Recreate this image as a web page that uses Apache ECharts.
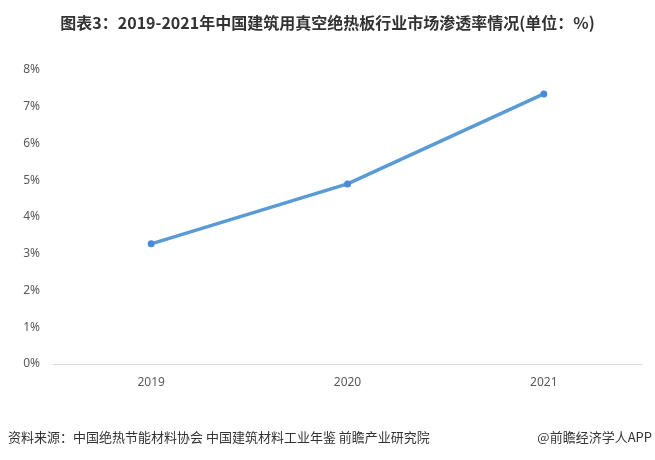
<!DOCTYPE html>
<html>
<head>
<meta charset="utf-8">
<script src="https://cdn.jsdelivr.net/npm/echarts@6/dist/echarts.min.js"></script>
<style>
html,body{margin:0;padding:0;background:#fff;}
#c{width:655px;height:460px;}
</style>
</head>
<body>
<div id="c"></div>
<script>
var categories = ['2019', '2020', '2021'];
var penetration = [3.27, 4.9, 7.35];
var yTicks = [0, 1, 2, 3, 4, 5, 6, 7, 8];

var chart = echarts.init(document.getElementById('c'));
chart.setOption({
  backgroundColor: '#fff',
  animation: false,
  title: {
    text: '图表3：2019-2021年中国建筑用真空绝热板行业市场渗透率情况(单位：%)',
    left: 'center',
    top: 10,
    textStyle: {fontFamily: 'Noto Sans CJK SC', fontWeight: 'bold', fontSize: 16, color: '#333'}
  },
  graphic: [
    {type: 'text', left: 8, top: 431, style: {text: '资料来源：中国绝热节能材料协会 中国建筑材料工业年鉴 前瞻产业研究院', font: '13px "Noto Sans CJK SC"', fill: '#333'}},
    {type: 'text', right: 3, top: 431, style: {text: '@前瞻经济学人APP', font: '13px "Noto Sans CJK SC"', fill: '#333'}}
  ],
  grid: {left: 53, right: 13, top: 70, bottom: 96},
  xAxis: {
    type: 'category',
    data: categories,
    boundaryGap: true,
    axisLine: {lineStyle: {color: '#d9d9d9'}},
    axisTick: {show: false},
    axisLabel: {color: '#595959', fontSize: 12, margin: 13, fontFamily: 'Noto Sans'}
  },
  yAxis: {
    type: 'value',
    min: yTicks[0],
    max: yTicks[yTicks.length - 1],
    interval: 1,
    splitLine: {show: false},
    axisLine: {show: false},
    axisTick: {show: false},
    axisLabel: {color: '#595959', fontSize: 12, margin: 13, fontFamily: 'Noto Sans', formatter: '{value}%'}
  },
  series: [{
    type: 'line',
    data: penetration,
    symbol: 'circle',
    symbolSize: 7,
    lineStyle: {color: '#5b9bd5', width: 3.5},
    itemStyle: {color: '#4a89dc'}
  }]
});
</script>
</body>
</html>
